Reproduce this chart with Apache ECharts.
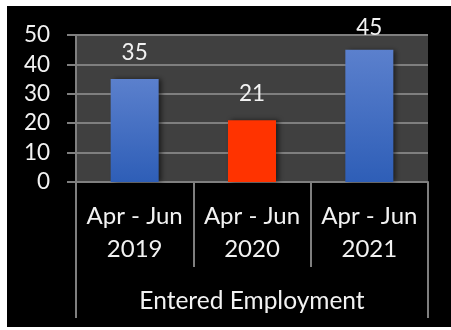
<!DOCTYPE html>
<html>
<head>
<meta charset="utf-8">
<script src="https://cdn.jsdelivr.net/npm/echarts@6/dist/echarts.min.js"></script>
<style>
html,body{margin:0;padding:0;background:#fff;width:451px;height:330px;overflow:hidden;}
#frame{position:absolute;left:7px;top:6px;width:444px;height:321px;background:#000;}
#chart{position:absolute;left:0;top:0;width:451px;height:330px;}
</style>
</head>
<body>
<div id="frame"></div>
<div id="chart"></div>
<script>
const categories = ['Apr - Jun\n2019', 'Apr - Jun\n2020', 'Apr - Jun\n2021'];
const groupLabels = ['Entered Employment'];
const values = [35, 21, 45];
const barKinds = ['blue', 'red', 'blue'];
const yTicks = [0, 10, 20, 30, 40, 50];

const FONT = 'Lato';
const TXT = '#f2f2f2';
const GRID = '#7f7f7f';

const blueGrad = new echarts.graphic.LinearGradient(0, 0, 0, 1, [
  {offset: 0, color: '#5b80cd'},
  {offset: 1, color: '#2e5eb7'}
]);
const labelDist = [15, 15, 10];

const chart = echarts.init(document.getElementById('chart'), null, {renderer: 'canvas'});
chart.setOption({
  backgroundColor: 'transparent',
  animation: false,
  grid: {left: 76, right: 23, top: 35, bottom: 148, show: true, backgroundColor: '#404040', borderWidth: 0},
  xAxis: [{
    type: 'category',
    data: categories,
    position: 'bottom',
    axisLine: {show: true, lineStyle: {color: GRID, width: 2}},
    axisTick: {show: true, length: 85, lineStyle: {color: GRID, width: 2}},
    axisLabel: {color: TXT, fontFamily: FONT, fontSize: 24, lineHeight: 33, margin: 18, interval: 0}
  }, {
    type: 'category',
    data: groupLabels,
    position: 'bottom',
    axisLine: {show: false},
    axisTick: {show: true, length: 136, lineStyle: {color: GRID, width: 2}},
    axisLabel: {color: TXT, fontFamily: FONT, fontSize: 24.5, lineHeight: 26, margin: 106}
  }],
  yAxis: {
    type: 'value',
    min: yTicks[0],
    max: yTicks[yTicks.length - 1],
    interval: 10,
    axisLine: {show: true, lineStyle: {color: GRID, width: 2}},
    axisTick: {show: true, length: 9, lineStyle: {color: GRID, width: 2}},
    splitLine: {show: true, lineStyle: {color: GRID, width: 2}},
    axisLabel: {color: TXT, fontFamily: FONT, fontSize: 22.5, margin: 26}
  },
  series: [{
    type: 'bar',
    xAxisIndex: 0,
    barWidth: 48,
    data: values.map((v, i) => ({
      value: v,
      itemStyle: {
        color: barKinds[i] === 'red' ? '#ff3300' : blueGrad,
        shadowColor: 'rgba(0,0,0,0.55)', shadowBlur: 5, shadowOffsetX: 3, shadowOffsetY: 0
      },
      label: {distance: labelDist[i]}
    })),
    label: {show: true, position: 'top', color: TXT, fontFamily: FONT, fontSize: 22.5}
  }]
});
</script>
</body>
</html>
